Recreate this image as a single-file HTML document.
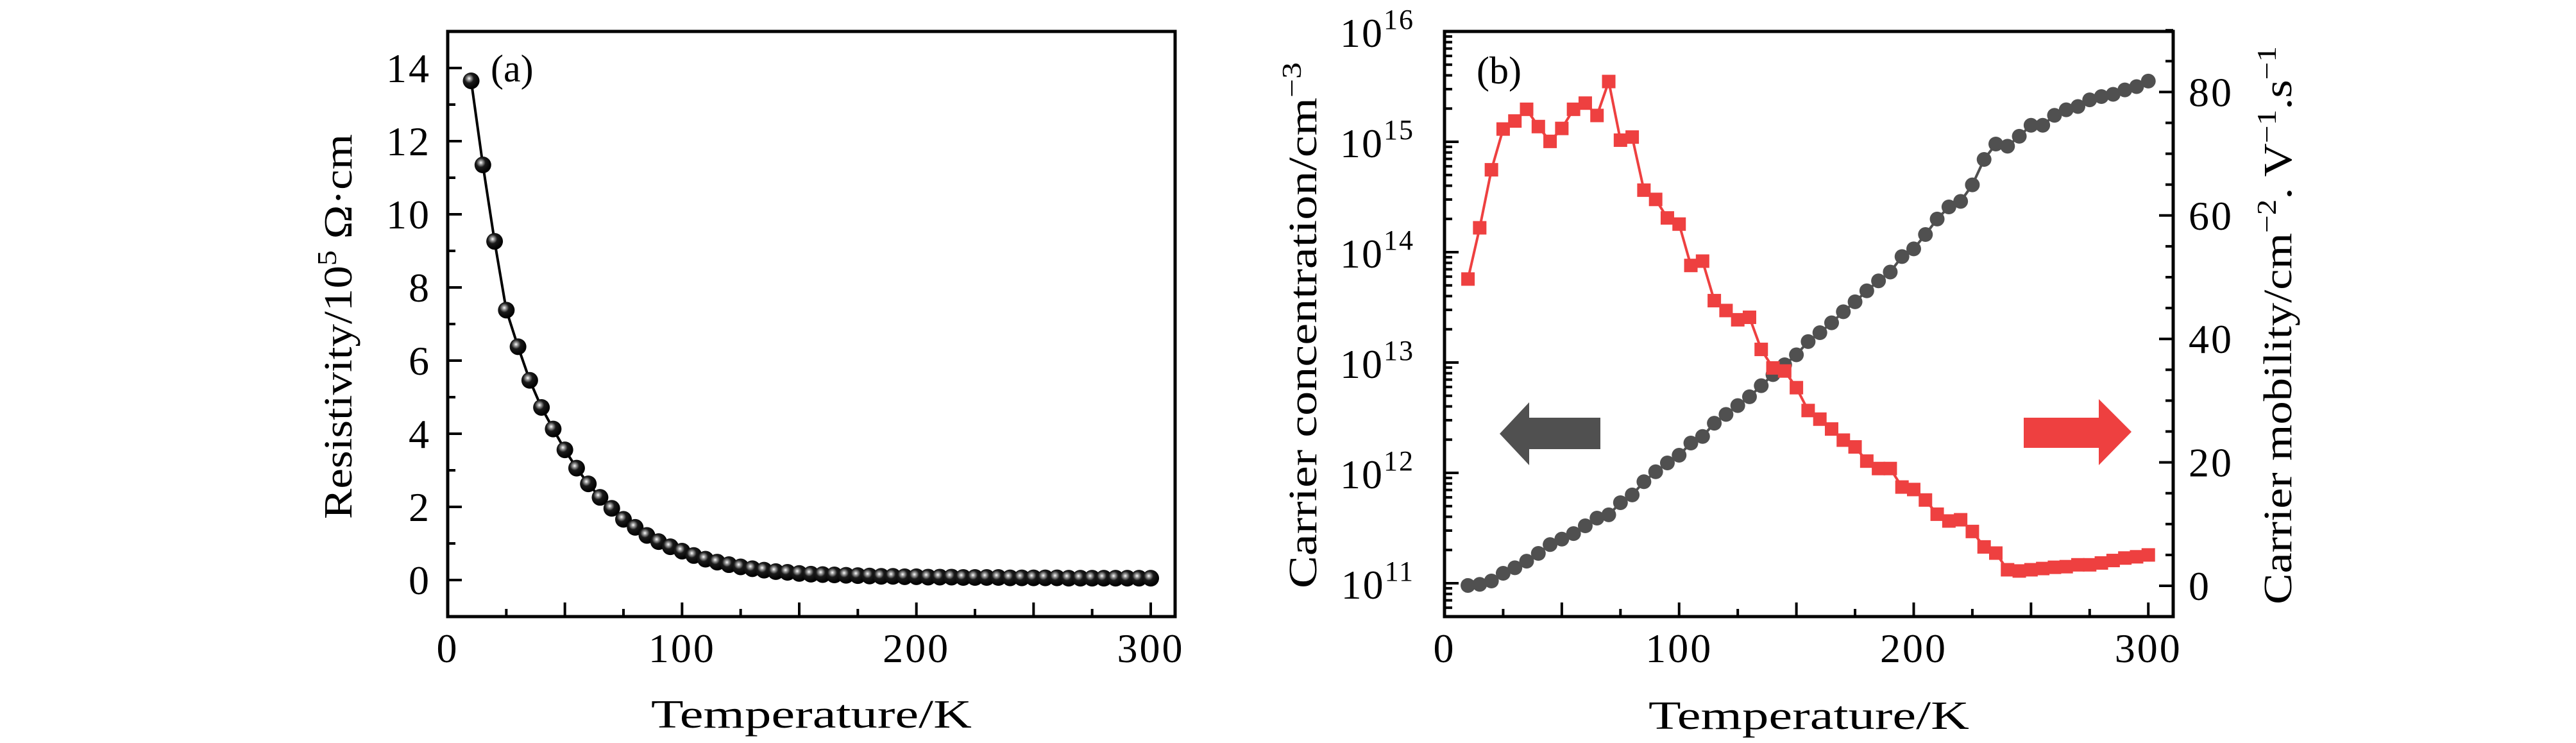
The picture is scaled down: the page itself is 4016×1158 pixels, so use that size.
<!DOCTYPE html>
<html><head><meta charset="utf-8"><style>
html,body{margin:0;padding:0;background:#fff;}
svg{display:block;font-family:"Liberation Serif",serif;}
</style></head><body>
<svg id="fig" width="4016" height="1158" viewBox="0 0 4016 1158" xmlns="http://www.w3.org/2000/svg">
<defs>
<radialGradient id="ball" cx="0.38" cy="0.36" r="0.62">
<stop offset="0" stop-color="#ffffff"/><stop offset="0.18" stop-color="#9a9a9a"/><stop offset="0.45" stop-color="#1a1a1a"/><stop offset="1" stop-color="#000"/>
</radialGradient>
</defs>
<g id="pa"></g>
<g id="pb"></g>
</svg>
<script>
// ---- Data ----
const tempsA = [10,15,20,25,30,35,40,45,50,55,60,65,70,75,80,85,90,95,100,105,110,115,120,125,130,135,140,145,150,155,160,165,170,175,180,185,190,195,200,205,210,215,220,225,230,235,240,245,250,255,260,265,270,275,280,285,290,295,300];
const resistivity = [13.65,11.35,9.26,7.38,6.38,5.46,4.72,4.13,3.56,3.06,2.63,2.26,1.96,1.66,1.44,1.22,1.05,0.91,0.79,0.67,0.57,0.49,0.42,0.36,0.31,0.27,0.23,0.21,0.18,0.16,0.15,0.14,0.13,0.12,0.11,0.10,0.10,0.09,0.09,0.08,0.08,0.08,0.07,0.07,0.07,0.07,0.06,0.06,0.06,0.06,0.06,0.05,0.05,0.05,0.05,0.05,0.05,0.05,0.05];
const tempsB = tempsA;
const mobility = [49.7,58,67.4,74,75.3,77.2,74.4,72,74.1,77.2,78.2,76.2,81.7,72.2,72.7,64.1,62.6,59.6,58.6,51.9,52.6,46.2,44.6,43.1,43.5,38.3,35.3,34.8,32.1,28.4,27,25.4,23.6,22.5,20.2,19,19,16,15.6,13.9,11.6,10.5,10.7,8.8,6.3,5.3,2.6,2.4,2.6,2.8,3,3.1,3.4,3.4,3.7,4.1,4.5,4.7,5];
const concExp = [10.98,10.99,11.02,11.09,11.14,11.20,11.27,11.35,11.40,11.45,11.52,11.59,11.62,11.73,11.80,11.92,12.01,12.09,12.16,12.27,12.33,12.45,12.53,12.61,12.69,12.79,12.89,12.98,13.07,13.19,13.27,13.36,13.46,13.55,13.65,13.74,13.82,13.96,14.03,14.16,14.30,14.41,14.46,14.61,14.84,14.98,14.96,15.05,15.15,15.15,15.24,15.29,15.32,15.38,15.41,15.43,15.47,15.50,15.55];
const xTickLabels = [0,100,200,300];
const yTickLabelsA = [0,2,4,6,8,10,12,14];
const logDecades = [11,12,13,14,15,16];
const yTickLabelsR = [0,20,40,60,80];

const NS="http://www.w3.org/2000/svg";
function mk(parent,tag,attrs){const e=document.createElementNS(NS,tag);for(const k in attrs)e.setAttribute(k,attrs[k]);parent.appendChild(e);return e;}
const TF=64;

// ---- Panel A ----
const pa=document.getElementById('pa');
const A={l:698,r:1832,t:49,b:961,x0:0,x1:310.4,y0:-1,y1:15};
const xA=v=>A.l+(v-A.x0)/(A.x1-A.x0)*(A.r-A.l);
const yA=v=>A.b-(v-A.y0)/(A.y1-A.y0)*(A.b-A.t);
for(let v=25;v<=300;v+=25){const L=(v%50===0)?22:12;
 const t=mk(pa,'line',{x1:xA(v),x2:xA(v),y1:A.b,y2:A.b-L,stroke:'#000','stroke-width':4});
 
 }
for(let v=-1;v<=15;v+=1){const L=(v%2===0)?22:12;
 const t=mk(pa,'line',{x1:A.l,x2:A.l+L,y1:yA(v),y2:yA(v),stroke:'#000','stroke-width':4});
 
 }
xTickLabels.forEach(v=>{const t=mk(pa,'text',{x:xA(v),y:1032,'text-anchor':'middle','font-size':TF,'letter-spacing':3});t.textContent=v;
 
 });
yTickLabelsA.forEach(v=>{const t=mk(pa,'text',{x:672,y:yA(v)+22,'text-anchor':'end','font-size':TF,'letter-spacing':3});t.textContent=v;
 
 });
{const ptsA=tempsA.map((t,i)=>xA(t)+','+yA(resistivity[i])).join(' ');
 const pl=mk(pa,'polyline',{points:ptsA,fill:'none',stroke:'#000','stroke-width':4});
 
 }
tempsA.forEach((t,i)=>{const c=mk(pa,'circle',{cx:xA(t),cy:yA(resistivity[i]),r:13,fill:'url(#ball)'});
 
 });
{const f=mk(pa,'rect',{x:A.l,y:A.t,width:A.r-A.l,height:A.b-A.t,fill:'none',stroke:'#000','stroke-width':5});
 
 
 const lab=mk(pa,'text',{x:765,y:127,'font-size':60});lab.textContent='(a)';
 
 
 const xt=mk(pa,'text',{x:1265,y:1134,'text-anchor':'middle','font-size':62,textLength:500,lengthAdjust:'spacingAndGlyphs'});xt.textContent='Temperature/K';
 
 
 const yt=mk(pa,'text',{x:0,y:0,'text-anchor':'middle','font-size':62,transform:'translate(548,509) rotate(-90)',textLength:600,lengthAdjust:'spacingAndGlyphs'});
 yt.innerHTML='Resistivity/10<tspan dy="-24" font-size="42">5</tspan><tspan dy="24"> Ω·cm</tspan>';
 
 }

// ---- Panel B ----
const pb=document.getElementById('pb');
const B={l:2252,r:3388,t:49,b:961,x0:0,x1:310.6};
const xB=v=>B.l+(v-B.x0)/(B.x1-B.x0)*(B.r-B.l);
const yL=e=>221+(15-e)*172;         // log10 exponent -> px
const yR=v=>913-v*9.62;             // mobility -> px
for(let v=25;v<=300;v+=25){const L=(v%50===0)?22:12;
 const t=mk(pb,'line',{x1:xB(v),x2:xB(v),y1:B.b,y2:B.b-L,stroke:'#000','stroke-width':4});
 
 }
for(let d=10;d<=15;d++){for(let m=1;m<=9;m++){const e=d+Math.log10(m);const y=yL(e);if(y>B.b||y<B.t)continue;const L=(m===1)?22:12;
 const t=mk(pb,'line',{x1:B.l,x2:B.l+L,y1:y,y2:y,stroke:'#000','stroke-width':4});
 
 }}
for(let v=-5;v<=90;v+=5){const L=(v%20===0)?22:12;
 const t=mk(pb,'line',{x1:B.r,x2:B.r-L,y1:yR(v),y2:yR(v),stroke:'#000','stroke-width':4});
 
 }
xTickLabels.forEach(v=>{const t=mk(pb,'text',{x:xB(v),y:1032,'text-anchor':'middle','font-size':TF,'letter-spacing':3});t.textContent=v;
 
 });
logDecades.forEach(e=>{const t=mk(pb,'text',{x:2205,y:yL(e)+24,'text-anchor':'end','font-size':TF,'letter-spacing':2});
 t.innerHTML='10<tspan dy="-28" font-size="44">'+e+'</tspan>';
 
 });
yTickLabelsR.forEach(v=>{const t=mk(pb,'text',{x:3412,y:yR(v)+22,'text-anchor':'start','font-size':TF,'letter-spacing':3});t.textContent=v;
 
 });
{const pts=tempsB.map((t,i)=>xB(t)+','+yL(concExp[i])).join(' ');
 const pl=mk(pb,'polyline',{points:pts,fill:'none',stroke:'#505050','stroke-width':4});
 
 }
tempsB.forEach((t,i)=>{const c=mk(pb,'circle',{cx:xB(t),cy:yL(concExp[i]),r:11.5,fill:'#505050'});
 
 });
{const pts=tempsB.map((t,i)=>xB(t)+','+yR(mobility[i])).join(' ');
 const pl=mk(pb,'polyline',{points:pts,fill:'none',stroke:'#ee4040','stroke-width':4});
 
 }
tempsB.forEach((t,i)=>{const c=mk(pb,'rect',{x:xB(t)-10.5,y:yR(mobility[i])-10.5,width:21,height:21,fill:'#ee4040'});
 
 });
{const f=mk(pb,'rect',{x:B.l,y:B.t,width:B.r-B.l,height:B.b-B.t,fill:'none',stroke:'#000','stroke-width':5});
 
 
 const lab=mk(pb,'text',{x:2302,y:130,'font-size':60});lab.textContent='(b)';
 
 
 const ga=mk(pb,'polygon',{points:'2338,676 2384,627 2384,651 2495,651 2495,700 2384,700 2384,725',fill:'#505050'});
 
 
 const ra=mk(pb,'polygon',{points:'3155,651 3272,651 3272,622 3323,673 3272,725 3272,698 3155,698',fill:'#ee4040'});
 
 
 const xt=mk(pb,'text',{x:2820,y:1136,'text-anchor':'middle','font-size':62,textLength:500,lengthAdjust:'spacingAndGlyphs'});xt.textContent='Temperature/K';
 
 
 const yt=mk(pb,'text',{x:0,y:0,'text-anchor':'middle','font-size':62,transform:'translate(2052,507) rotate(-90)',textLength:820,lengthAdjust:'spacingAndGlyphs'});
 yt.innerHTML='Carrier concentration/cm<tspan dy="-24" font-size="42">−3</tspan>';
 
 
 const yr=mk(pb,'text',{x:0,y:0,'text-anchor':'middle','font-size':62,transform:'translate(3572,507) rotate(-90)',textLength:870,lengthAdjust:'spacingAndGlyphs'});
 yr.innerHTML='Carrier mobility/cm<tspan dy="-24" font-size="42">−2</tspan><tspan dy="24">. V</tspan><tspan dy="-24" font-size="42">−1</tspan><tspan dy="24">.s</tspan><tspan dy="-24" font-size="42">−1</tspan>';
 
 }
</script>
</body></html>
